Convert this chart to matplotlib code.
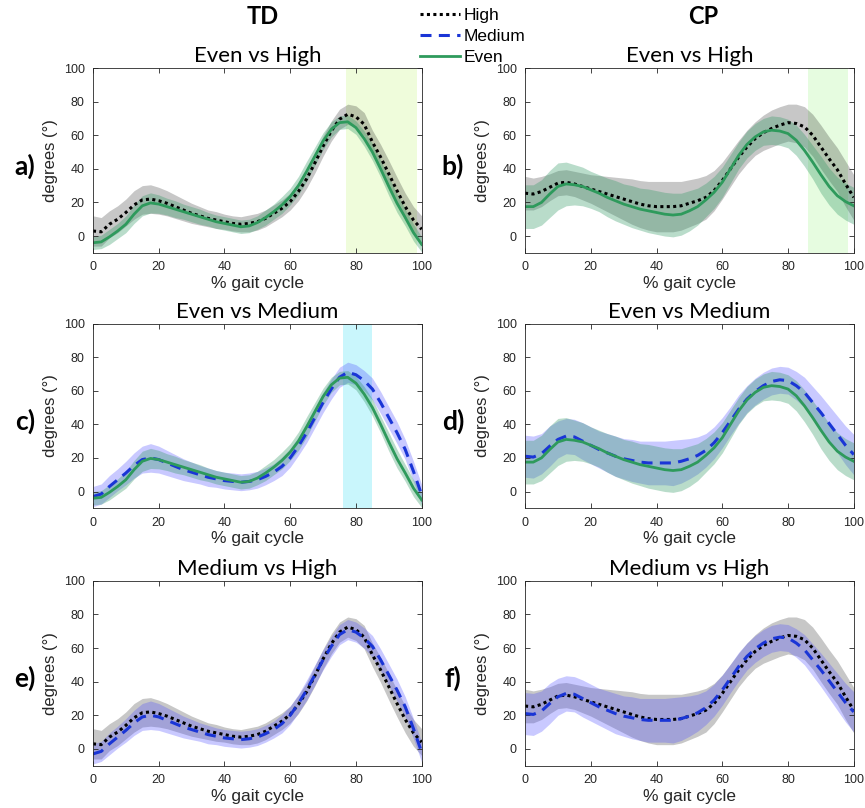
import numpy as np
import matplotlib
matplotlib.use("Agg")
import matplotlib.pyplot as plt
from matplotlib.lines import Line2D

# % gait cycle sample points
gait = np.arange(0, 100.1, 2.5)

# ---- TD group: mean and SD of joint angle (degrees) ----
td_high = [3, 2.5, 7, 10, 14, 18.5, 21.5, 22, 21, 19.5, 17.5, 15.5, 13.5, 12, 10.5, 9.5,
           8.5, 7.5, 7, 7.5, 8.5, 10.5, 13.5, 16.5, 20.5, 26.5, 34, 43.5, 53.5, 62.5, 69.5,
           72.5, 71, 66.5, 56, 47, 37, 27, 17.5, 9.5, 4]
td_high_sd = [9, 8.5, 8, 8, 8, 8.5, 8.5, 8.5, 8, 7.5, 7, 6.5, 6, 5.5, 5, 5,
              4.5, 4.5, 4.5, 5, 5, 5, 5, 5, 5, 5.5, 5.5, 6, 6, 6, 6,
              6, 6.5, 7, 7, 7.5, 8, 8, 8, 8, 8]
td_med = [-3, -1.5, 3, 7, 11, 15.5, 19, 20, 19, 17, 15, 13, 11.5, 10, 8.5, 7.5,
          6.5, 6, 5.5, 6, 7, 9, 11.5, 15, 20, 27, 35, 44, 53, 61, 68,
          71, 69.5, 66, 61, 53, 44, 35, 25, 12, -2]
td_med_sd = [6, 6, 6.5, 6.5, 7, 7.5, 8, 8.5, 8, 7.5, 7, 6.5, 6, 5.5, 5.5, 5,
             5, 5, 5, 5, 5, 5, 5, 5.5, 5.5, 5.5, 6, 6, 6, 6, 6,
             6, 6, 6, 6.5, 6.5, 6.5, 6.5, 6, 6, 6]
td_even = [-4, -3.5, -0.5, 3, 7, 13, 18, 19.7, 19, 17.5, 16, 14.5, 13, 11.5, 10, 8.5,
           7.5, 6.5, 5.5, 6, 8, 11, 14.5, 18.5, 23.5, 30, 38.5, 47.5, 56.5, 63.5, 67.5,
           68, 64.5, 58, 50, 40, 29.5, 19.5, 11, 2, -5]
td_even_sd = [4, 4, 4.5, 4.5, 5, 5.5, 6, 6, 5.5, 5, 5, 4.5, 4.5, 4.5, 4, 4,
              4, 4, 4, 4, 4, 4.5, 4.5, 5, 5, 5.5, 6, 5.5, 5, 4.5, 4,
              4, 4, 4.5, 5, 5, 5.5, 5.5, 5, 5, 4.5]

# ---- CP group ----
cp_high = [25.5, 25, 26.5, 29, 31.5, 32, 31, 29.5, 28, 26.5, 25, 23.5, 22, 20.5, 19, 18,
           17.5, 17.5, 17.5, 18, 19.5, 21, 23, 27, 33, 40, 47, 53, 58, 61.5, 64,
           66, 67.5, 67, 65, 60, 53, 46, 39.5, 31, 23]
cp_high_sd = [10, 9.5, 9, 8, 7.5, 7.5, 7.5, 8, 8.5, 9.5, 10.5, 11.5, 12.5, 13.5, 14, 14.5,
              15, 15, 15, 14.5, 14, 13.5, 13, 12, 11, 10.5, 10, 10, 10, 10.5, 11,
              11, 11, 11.5, 12, 12.5, 13, 13, 13, 13.5, 13.5]
cp_med = [21, 20.5, 22.5, 27, 31, 33, 32.5, 30, 27.5, 25, 23, 21, 19.5, 18.5, 17.5, 17,
          17, 17, 17, 18, 19.5, 21.5, 24.5, 29, 35, 42, 49, 55, 59.5, 63, 65.5,
          66.5, 66, 63, 59, 53, 47, 40.5, 34, 27.5, 22]
cp_med_sd = [12.5, 12.5, 12, 12, 11, 10.5, 10.5, 11, 11, 11, 11.5, 12, 12, 12.5, 12.5, 13,
             13, 13, 13.5, 13, 12, 11, 10, 9.5, 9, 8.5, 8.5, 8, 8, 8, 8,
             8, 8, 8.5, 9, 9.5, 10, 10.5, 11, 11.5, 12]
cp_even = [17.5, 17.5, 20, 25, 29.5, 31, 30.5, 29.5, 27.5, 25.5, 23, 21, 19, 17.5, 16, 15,
           14, 13, 12.5, 13, 15, 17.5, 21.5, 26, 32, 40, 48, 54.5, 59, 62, 63,
           62.5, 61, 57, 51, 44, 36.5, 29.5, 24, 20.5, 18]
cp_even_sd = [13, 13, 13.5, 14, 14, 13, 12, 11.5, 11, 11, 11.5, 12, 12, 12.5, 12.5, 13,
              13, 13, 13, 12.5, 12, 11, 10, 9.5, 9, 8.5, 8, 8, 8, 8, 8.5,
              8.5, 8.5, 9, 9.5, 10, 11, 11, 11, 11, 11]

# significant differences (% gait cycle)
sig_a = (77, 98.5)
sig_b = (86, 98.3)
sig_c = (76, 84.8)

# colours
c_high_band = (0, 0, 0, 0.22)
c_med_band = (0.3, 0.3, 1.0, 0.30)
c_even_band = (0.2, 0.6, 0.4, 0.34)
c_med_line = "#1a35d6"
c_even_line = "#2e9a5c"
axcol = "#262626"

plt.rcParams["font.family"] = ["Liberation Sans", "DejaVu Sans"]
title_font = ["Lato", "DejaVu Sans"]

fig = plt.figure(figsize=(8.65, 8.08), dpi=100)

lefts = [0.1075, 0.607]
bottoms = [0.6871, 0.3709, 0.0524]
w, h = 0.380, 0.2287


def band(ax, mean, sd, col):
    m = np.array(mean)
    s = np.array(sd)
    ax.fill_between(gait, m - s, m + s, color=col, linewidth=0)


def line(ax, mean, kind):
    if kind == "high":
        ax.plot(gait, mean, color="black", lw=2.2, ls=(0, (1, 1.1)))
    elif kind == "med":
        ax.plot(gait, mean, color=c_med_line, lw=2.2, ls=(0, (3.6, 2.4)))
    else:
        ax.plot(gait, mean, color=c_even_line, lw=2.0)


def setup(ax, title):
    ax.set_xlim(0, 100)
    ax.set_ylim(-10, 100)
    ax.set_xticks([0, 20, 40, 60, 80, 100])
    ax.set_yticks([0, 20, 40, 60, 80, 100])
    ax.tick_params(direction="in", top=True, right=True, length=3.5, width=0.6,
                   colors=axcol, labelsize=9, pad=6)
    for sp in ax.spines.values():
        sp.set_color(axcol)
        sp.set_linewidth(0.6)
    ax.set_xlabel("% gait cycle", fontsize=12.5, color=axcol, labelpad=2)
    ax.set_ylabel("degrees (°)", fontsize=12, color=axcol, labelpad=4)
    ax.set_title(title, fontsize=16, family=title_font, pad=4)


panels = [
    # (col, row, title, first series, second series, sig region, sig colour)
    (0, 0, "Even vs High", (td_high, td_high_sd, "high"), (td_even, td_even_sd, "even"), sig_a, "#effcdb"),
    (1, 0, "Even vs High", (cp_high, cp_high_sd, "high"), (cp_even, cp_even_sd, "even"), sig_b, "#e6fce0"),
    (0, 1, "Even vs Medium", (td_med, td_med_sd, "med"), (td_even, td_even_sd, "even"), sig_c, "#c9f6fc"),
    (1, 1, "Even vs Medium", (cp_med, cp_med_sd, "med"), (cp_even, cp_even_sd, "even"), None, None),
    (0, 2, "Medium vs High", (td_high, td_high_sd, "high"), (td_med, td_med_sd, "med"), None, None),
    (1, 2, "Medium vs High", (cp_high, cp_high_sd, "high"), (cp_med, cp_med_sd, "med"), None, None),
]
band_col = {"high": c_high_band, "med": c_med_band, "even": c_even_band}
letters = ["a)", "b)", "c)", "d)", "e)", "f)"]

for i, (col, row, title, s1, s2, sig, sigc) in enumerate(panels):
    ax = fig.add_axes([lefts[col], bottoms[row], w, h])
    if sig is not None:
        ax.axvspan(sig[0], sig[1], color=sigc, lw=0, zorder=0)
    band(ax, s1[0], s1[1], band_col[s1[2]])
    band(ax, s2[0], s2[1], band_col[s2[2]])
    line(ax, s1[0], s1[2])
    line(ax, s2[0], s2[2])
    setup(ax, title)
    lx = 25 / 865 if col == 0 else 453 / 865
    fig.text(lx, bottoms[row] + h * 0.47, letters[i], fontsize=19, fontweight="bold",
             family=title_font, ha="center", va="center")

# group headings
fig.text(263 / 865, 1 - 17 / 808, "TD", fontsize=17, fontweight="bold", family=title_font,
         ha="center", va="center")
fig.text(703 / 865, 1 - 17 / 808, "CP", fontsize=17, fontweight="bold", family=title_font,
         ha="center", va="center")

handles = [
    Line2D([], [], color="black", lw=2.2, ls=(0, (1, 1.1))),
    Line2D([], [], color=c_med_line, lw=2.2, ls=(0, (3.6, 2.4))),
    Line2D([], [], color=c_even_line, lw=2.0),
]
fig.legend(handles, ["High", "Medium", "Even"], loc="upper left",
           bbox_to_anchor=(408 / 865, 1 + 4 / 808), frameon=False, fontsize=12.5,
           handlelength=2.3, handletextpad=0.2, labelspacing=0.32, borderpad=0.2)

fig.savefig("out.png", dpi=100)
